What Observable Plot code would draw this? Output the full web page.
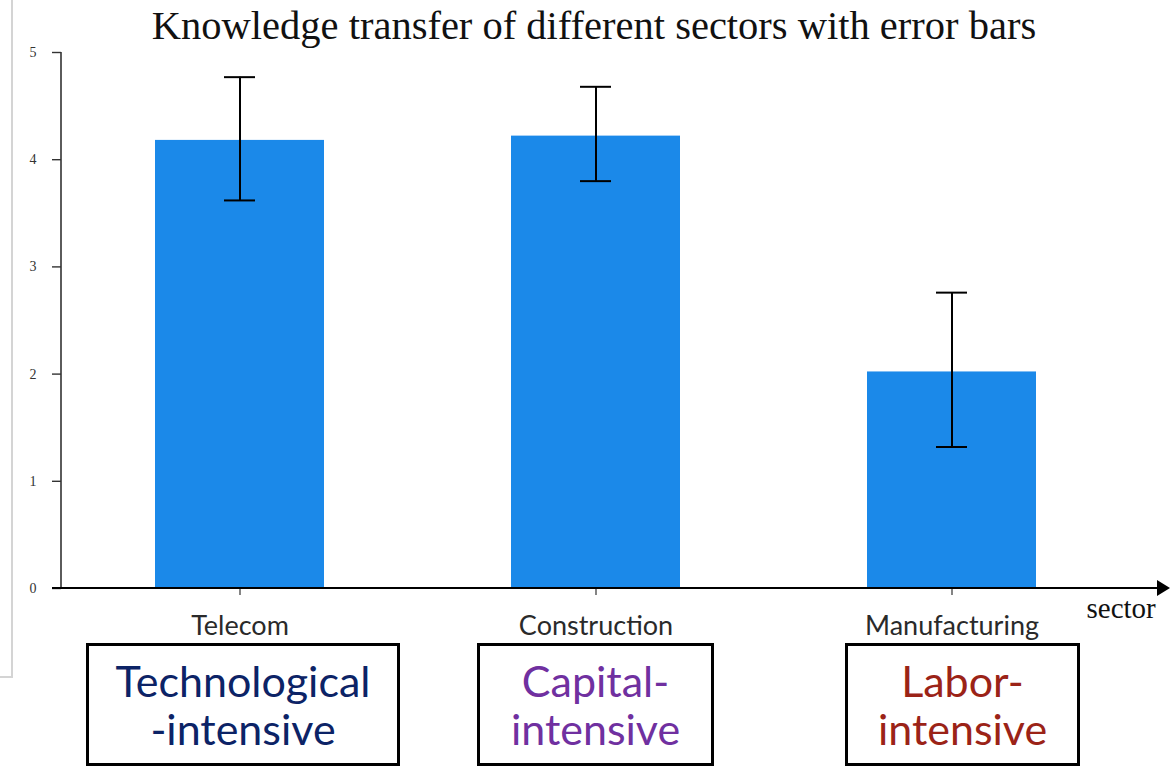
<!DOCTYPE html>
<html>
<head>
<meta charset="utf-8">
<script src="https://cdn.jsdelivr.net/npm/d3@7"></script>
<script src="https://cdn.jsdelivr.net/npm/@observablehq/plot@0.6"></script>
<style>
  html, body { margin: 0; padding: 0; background: #fff; }
  #wrap { position: relative; width: 1173px; height: 767px; overflow: hidden; }
  #frameLine { position: absolute; left: 0; top: 0; width: 11px; height: 676px;
    border-right: 2px solid #d4d4d4; border-bottom: 2px solid #d4d4d4; }
  .box { position: absolute; box-sizing: border-box; border: 3px solid #000; background: #fff;
    display: flex; flex-direction: column; align-items: center; justify-content: center;
    font-family: Lato, "Open Sans", sans-serif; font-size: 43px; line-height: 48px; }
  #chart { position: absolute; left: 0; top: 0; }
</style>
</head>
<body>
<div id="wrap">
  <div id="frameLine"></div>
  <div id="chart"></div>
</div>
<script>
// ---- data ----
const sectors = ["Telecom", "Construction", "Manufacturing"];
const means = [4.18, 4.22, 2.02];
const lower = [3.62, 3.80, 1.32];
const upper = [4.77, 4.68, 2.76];
const yTicks = [0, 1, 2, 3, 4, 5];
const titleText = "Knowledge transfer of different sectors with error bars";
const xLabel = "sector";
const groupLabels = [["Technological", "-intensive"], ["Capital-", "intensive"], ["Labor-", "intensive"]];
const groupColors = ["#0c2366", "#7030a0", "#9b2317"];

const rows = sectors.map((s, i) => ({sector: s, mean: means[i], lo: lower[i], hi: upper[i]}));

// ---- layout ----
const W = 1173, H = 767;
const M = {top: 52, right: 43, bottom: 179, left: 61};
const boxLayout = [
  {left: 86, width: 314}, {left: 477, width: 237}, {left: 845, width: 235}
];

function axesLines(index, scales, values, dim) {
  const g = d3.create("svg:g");
  const y0 = scales.y(0);
  const x0 = dim.marginLeft;
  const xEnd = dim.width - 3;
  g.append("line").attr("x1", x0).attr("x2", x0)
    .attr("y1", scales.y(5)).attr("y2", y0)
    .attr("stroke", "#333").attr("stroke-width", 1.6);
  g.append("line").attr("x1", x0 - 9).attr("x2", xEnd - 8)
    .attr("y1", y0).attr("y2", y0)
    .attr("stroke", "#000").attr("stroke-width", 2);
  g.append("path")
    .attr("d", `M${xEnd - 13},${y0 - 8}L${xEnd},${y0}L${xEnd - 13},${y0 + 8}Z`)
    .attr("fill", "#000");
  return g.node();
}

const plot = Plot.plot({
  width: W,
  height: H,
  marginTop: M.top, marginRight: M.right, marginBottom: M.bottom, marginLeft: M.left,
  style: {background: "transparent", overflow: "visible"},
  x: {domain: sectors, paddingInner: 0.526, paddingOuter: 0.263, label: null},
  y: {domain: [0, 5], label: null},
  marks: [
    Plot.barY(rows, {x: "sector", y: "mean", fill: "#1b89e9"}),
    Plot.axisY({ticks: yTicks, tickFormat: "d", tickSize: 9, tickPadding: 16, fontSize: 14,
      fontFamily: "Liberation Serif, serif", fill: "#333", stroke: "#333", strokeWidth: 1.4, label: null}),
    Plot.axisX({tickSize: 7, tickPadding: 20, fontSize: 27, fontFamily: "Lato, sans-serif",
      fill: "#2a2a2a", stroke: "#333", strokeWidth: 1.2, label: null}),
    Plot.ruleX(rows, {x: "sector", y1: "lo", y2: "hi", stroke: "#000", strokeWidth: 2}),
    Plot.tickY(rows, {x: "sector", y: "lo", stroke: "#000", strokeWidth: 2, inset: 69}),
    Plot.tickY(rows, {x: "sector", y: "hi", stroke: "#000", strokeWidth: 2, inset: 69}),
    axesLines,
    Plot.text([titleText], {frameAnchor: "top", dx: -2, dy: -26, lineAnchor: "middle", fontSize: 40.5,
      fontFamily: "Liberation Serif, serif", fill: "#111"}),
    Plot.text([xLabel], {frameAnchor: "bottom-right", dx: -44, dy: 20, textAnchor: "start",
      lineAnchor: "middle", fontSize: 29, fontFamily: "Liberation Serif, serif", fill: "#111"})
  ]
});
document.getElementById("chart").appendChild(plot);

const wrap = document.getElementById("wrap");
groupLabels.forEach((lines, i) => {
  const d = document.createElement("div");
  d.className = "box";
  d.style.left = boxLayout[i].left + "px";
  d.style.width = boxLayout[i].width + "px";
  d.style.top = "643px";
  d.style.height = "123px";
  d.style.color = groupColors[i];
  lines.forEach(t => { const s = document.createElement("div"); s.textContent = t; d.appendChild(s); });
  wrap.appendChild(d);
});
</script>
</body>
</html>
